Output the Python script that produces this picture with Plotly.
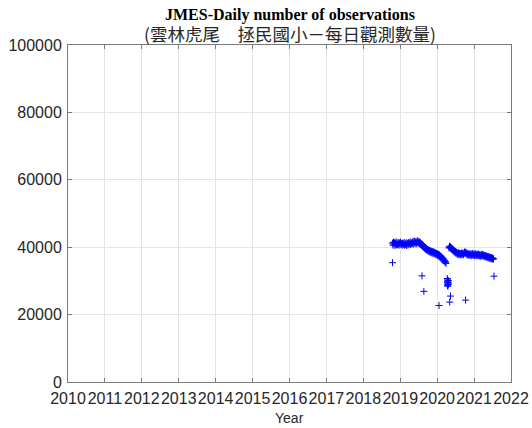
import plotly.graph_objects as go

# ---------------- data ----------------
tick_years = list(range(2010, 2023))
y_ticks = [0, 20000, 40000, 60000, 80000, 100000]

# regular sampling: one value every 5 days
seg_a_start = 2018.79      # decimal year
seg_a_values = [
    41200, 40600, 41500, 40900, 41300, 40500, 41100, 41600, 40800, 41200,
    40700, 41400, 41000, 40600, 41300, 40900, 41500, 40800, 41100, 40600,
    41200, 40700, 41000, 41400, 40600, 41100, 40800, 41300, 40500, 41000,
    41200, 40700, 41400, 40900, 41100, 41600, 40800, 41300, 41000, 41500,
    41100, 41700, 40900, 41400, 41800, 41200, 41600, 41000, 41500, 41900,
    41300, 41700, 41200, 41600, 41000, 41400, 40800, 41100, 40500, 40800,
    40200, 40500, 39900, 40200, 39600, 39900, 39300, 39700, 39100, 39400,
    38900, 39200, 38700, 39100, 38600, 38900, 38400, 38800, 38300, 38700,
    38200, 38600, 38100, 38500, 38000, 38300, 37800, 38200, 37700, 38000,
    37500, 37900, 37300, 37700, 37100, 37400, 36800, 37100, 36500, 36800,
    36200, 36500, 35900, 36100, 35500, 35700, 35200,
]

seg_b_start = 2020.32
seg_b_values = [
    39800, 40300, 39900, 40100, 39600,
    39800, 39300, 39500, 39000, 39200, 38700, 38900, 38400, 38700, 38200, 38500, 38000, 38300,
    37800, 38300, 37900, 38200, 37700, 38100, 37800, 38300, 37900, 38200, 37700, 38000,
    38300, 38600, 38100, 38500, 38000, 38300, 37800, 38100, 37600, 38000,
    37700, 38100, 37600, 37900, 37500, 38000, 37700, 38200, 37600, 37900,
    37500, 37800, 38100, 37600, 37900, 37400, 37800, 37600, 38000, 37500,
    37800, 37400, 37700, 37300, 37800, 37500, 37900, 37400, 37700, 37300,
    37600, 37200, 37500, 37100, 37400, 37000, 37300, 36900, 37200, 36800,
    37100, 36700, 37000, 36600, 36900, 36500, 36800, 36400, 36600,
]

outlier_years = [2018.79, 2019.59, 2019.64, 2020.05,
                 2020.275, 2020.28, 2020.285, 2020.29, 2020.295, 2020.30,
                 2020.28, 2020.29, 2020.30, 2020.285, 2020.295,
                 2020.36, 2020.34, 2020.77, 2021.54]
outlier_values = [35400, 31500, 26900, 22700,
                  30700, 30300, 29900, 29600, 29300, 29000,
                  28700, 28400, 30100, 29500, 28900,
                  25500, 23700, 24300, 31400]

step = 5 / 365.25
xa = [seg_a_start + i * step for i in range(len(seg_a_values))]
xb = [seg_b_start + i * step for i in range(len(seg_b_values))]

x_all = xa + xb + outlier_years
y_all = seg_a_values + seg_b_values + outlier_values

# ---------------- figure ----------------
fig = go.Figure()
fig.add_trace(go.Scatter(
    x=x_all, y=y_all, mode="markers",
    marker=dict(symbol="cross-thin", size=5, color="#0000ff",
                line=dict(color="#0000ff", width=1)),
    showlegend=False,
))

axis_col = "#7a7a7a"
grid_col = "#e4e4e4"
tick_font = dict(family="Liberation Sans, Arial, sans-serif", size=16, color="#262626")

fig.update_xaxes(
    range=[2010 - 1e-4, 2022 + 1e-4], tickmode="array", tickvals=tick_years,
    ticktext=[str(y) for y in tick_years], tickangle=0,
    showgrid=True, gridcolor=grid_col, gridwidth=1,
    showline=True, linecolor=axis_col, linewidth=1, mirror="ticks",
    ticks="inside", ticklen=4, tickcolor=axis_col,
    tickfont=tick_font, zeroline=False, automargin=False, ticklabelstandoff=2,
)
fig.update_yaxes(
    range=[0, 100000], tickmode="array", tickvals=y_ticks,
    ticktext=[str(v) for v in y_ticks],
    showgrid=True, gridcolor=grid_col, gridwidth=1,
    showline=True, linecolor=axis_col, linewidth=1, mirror="ticks",
    ticks="inside", ticklen=4, tickcolor=axis_col,
    tickfont=tick_font, zeroline=False, automargin=False, ticklabelstandoff=2,
)

title_text = (
    "<b>JMES-Daily number of observations</b><br>"
    "<span style='font-family:Noto Sans CJK TC, sans-serif;font-size:17.5px;color:#262626'>"
    "(雲林虎尾　拯民國小－每日觀測數量)</span>"
)
fig.add_annotation(
    text=title_text,
    xref="paper", yref="paper", x=0.5, y=1 - 3.5 / 337, xanchor="center", yanchor="bottom",
    showarrow=False, align="center",
    font=dict(family="Liberation Serif, Times New Roman, serif", size=16, color="#000000"),
)
fig.add_annotation(
    text="Year",
    xref="paper", yref="paper", x=0.5, y=-36 / 337, xanchor="center", yanchor="middle",
    showarrow=False, font=dict(family="Liberation Sans, Arial, sans-serif", size=14, color="#262626"),
)

fig.update_layout(
    width=532, height=428,
    margin=dict(l=68, r=21, t=45, b=46, autoexpand=False),
    paper_bgcolor="white", plot_bgcolor="white",
    hovermode=False,
)

# remove the page's default 8px body margin so the figure fills the window
fig.write_html("out.html", config={"displayModeBar": False},
               post_script="document.body.style.margin='0';")
